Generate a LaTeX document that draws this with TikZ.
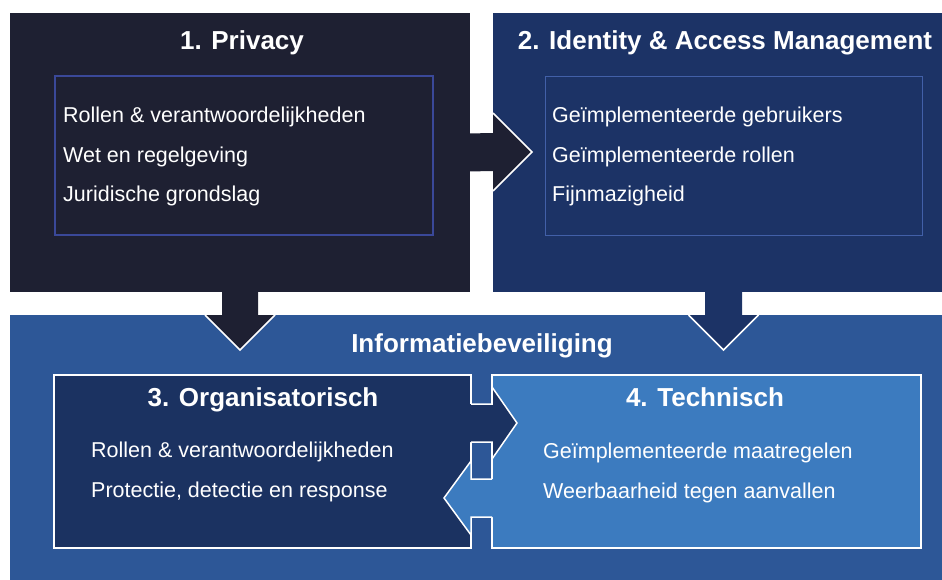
\documentclass[tikz,border=0pt]{standalone}
\usepackage{fontspec}
\setmainfont{Liberation Sans}
\usetikzlibrary{positioning,calc}

\definecolor{privacyblack}{HTML}{1E2032}
\definecolor{iamblue}{HTML}{1C3366}
\definecolor{infoblue}{HTML}{2D5797}
\definecolor{orgblue}{HTML}{1B3261}
\definecolor{techblue}{HTML}{3C7BBF}
\definecolor{privframe}{HTML}{3A4899}
\definecolor{iamframe}{HTML}{4260A8}

\begin{document}
\begin{tikzpicture}[x=1pt,y=-1pt,
    panel/.style={rectangle, inner sep=0pt, outer sep=0pt, anchor=north west},
    heading/.style={text=white, font=\fontsize{26}{30}\selectfont\bfseries, anchor=base, inner sep=0pt},
    item/.style={text=white, font=\fontsize{21.5}{25}\selectfont, anchor=base west, inner sep=0pt},
    outline/.style={draw=white, line width=1.5pt, line join=miter}]

    \useasboundingbox (0,0) rectangle (942,580);

    % bovenste blokken
    \node[panel, fill=privacyblack, minimum width=460, minimum height=279] (privacy) at (10,13) {};
    \node[panel, fill=iamblue, minimum width=449, minimum height=279] (iam) at (493,13) {};
    \node[panel, draw=privframe, line width=1.2pt, minimum width=378, minimum height=159] (privframe) at (55,76) {};
    \node[panel, draw=iamframe, line width=0.8pt, minimum width=377, minimum height=159] (iamframe) at (545,76) {};

    % onderste blok
    \node[panel, fill=infoblue, minimum width=932, minimum height=265] (infosec) at (10,315) {};
    \node[panel, fill=orgblue, draw=white, line width=2pt, minimum width=417, minimum height=173] (org) at (54,375) {};
    \node[panel, fill=techblue, draw=white, line width=2pt, minimum width=429, minimum height=173] (tech) at (492,375) {};

    % titels
    \node[heading] (t1) at (242,50) {1. Privacy};
    \node[heading] (t2) at (725,50) {2. Identity \& Access Management};
    \node[heading] (t0) at (482,352) {Informatiebeveiliging};
    \node[heading] (t3) at (263,406) {3. Organisatorisch};
    \node[heading] (t4) at (705,406) {4. Technisch};

    % punten
    \foreach \txt [count=\i] in {Rollen \& verantwoordelijkheden, Wet en regelgeving, Juridische grondslag}
        \node[item] (priv\i) at (63,{123+39.5*(\i-1)}) {\txt};
    \foreach \txt [count=\i] in {Geïmplementeerde gebruikers, Geïmplementeerde rollen, Fijnmazigheid}
        \node[item] (iam\i) at (552,{123+39.5*(\i-1)}) {\txt};
    \foreach \txt [count=\i] in {Rollen \& verantwoordelijkheden, {Protectie, detectie en response}}
        \node[item] (org\i) at (91,{457+40*(\i-1)}) {\txt};
    \foreach \txt [count=\i] in {Geïmplementeerde maatregelen, Weerbaarheid tegen aanvallen}
        \node[item] (tech\i) at (543,{458+40*(\i-1)}) {\txt};

    % pijl privacy -> iam
    \coordinate (p2) at ($(iam.west)+(0,-0.5)$);
    \fill[privacyblack] ($(privacy.east)+(-2,-19)$) -- ($(p2)+(0,-19)$) -- ($(p2)+(0,-39)$)
        -- ($(p2)+(39,0)$) -- ($(p2)+(0,39)$) -- ($(p2)+(0,19)$) -- ($(privacy.east)+(-2,19)$) -- cycle;
    \draw[outline] ($(p2)+(0,-39)$) -- ($(p2)+(39,0)$) -- ($(p2)+(0,39)$);

    % pijl privacy -> informatiebeveiliging
    \coordinate (p0) at (privacy.south |- infosec.north);
    \fill[privacyblack] ($(privacy.south)+(-18,-2)$) -- ($(p0)+(-18,0)$) -- ($(p0)+(-35,0)$)
        -- ($(p0)+(0,35)$) -- ($(p0)+(35,0)$) -- ($(p0)+(18,0)$) -- ($(privacy.south)+(18,-2)$) -- cycle;
    \draw[outline] ($(p0)+(-35,0)$) -- ($(p0)+(0,35)$) -- ($(p0)+(35,0)$);

    % pijl iam -> informatiebeveiliging
    \coordinate (i0) at ($(iam.south |- infosec.north)+(6,0)$);
    \coordinate (i1) at ($(iam.south)+(6,-2)$);
    \fill[iamblue] ($(i1)+(-18.5,0)$) -- ($(i0)+(-18.5,0)$) -- ($(i0)+(-35,0)$)
        -- ($(i0)+(0,35)$) -- ($(i0)+(35,0)$) -- ($(i0)+(18.5,0)$) -- ($(i1)+(18.5,0)$) -- cycle;
    \draw[outline] ($(i0)+(-35,0)$) -- ($(i0)+(0,35)$) -- ($(i0)+(35,0)$);

    % pijl organisatorisch -> technisch
    \coordinate (o1) at ($(org.east)+(0,-38.5)$);
    \coordinate (o2) at ($(tech.west)+(0,-38.5)$);
    \fill[orgblue] ($(o1)+(-2,-19)$) -- ($(o2)+(0,-19)$) -- ($(o2)+(0,-36)$) -- ($(o2)+(25,0)$)
        -- ($(o2)+(0,36)$) -- ($(o2)+(0,19)$) -- ($(o1)+(-2,19)$) -- cycle;
    \draw[outline] ($(o1)+(0,-19)$) -- ($(o2)+(0,-19)$) -- ($(o2)+(0,-36)$) -- ($(o2)+(25,0)$)
        -- ($(o2)+(0,36)$) -- ($(o2)+(0,19)$) -- ($(o1)+(0,19)$);

    % pijl technisch -> organisatorisch
    \coordinate (r1) at ($(tech.west)+(0,36.5)$);
    \coordinate (r2) at ($(org.east)+(0,36.5)$);
    \fill[techblue] ($(r1)+(2,-19)$) -- ($(r2)+(0,-19)$) -- ($(r2)+(0,-37)$) -- ($(r2)+(-27,0)$)
        -- ($(r2)+(0,37)$) -- ($(r2)+(0,19)$) -- ($(r1)+(2,19)$) -- cycle;
    \draw[outline] ($(r1)+(0,-19)$) -- ($(r2)+(0,-19)$) -- ($(r2)+(0,-37)$) -- ($(r2)+(-27,0)$)
        -- ($(r2)+(0,37)$) -- ($(r2)+(0,19)$) -- ($(r1)+(0,19)$);
\end{tikzpicture}
\end{document}
